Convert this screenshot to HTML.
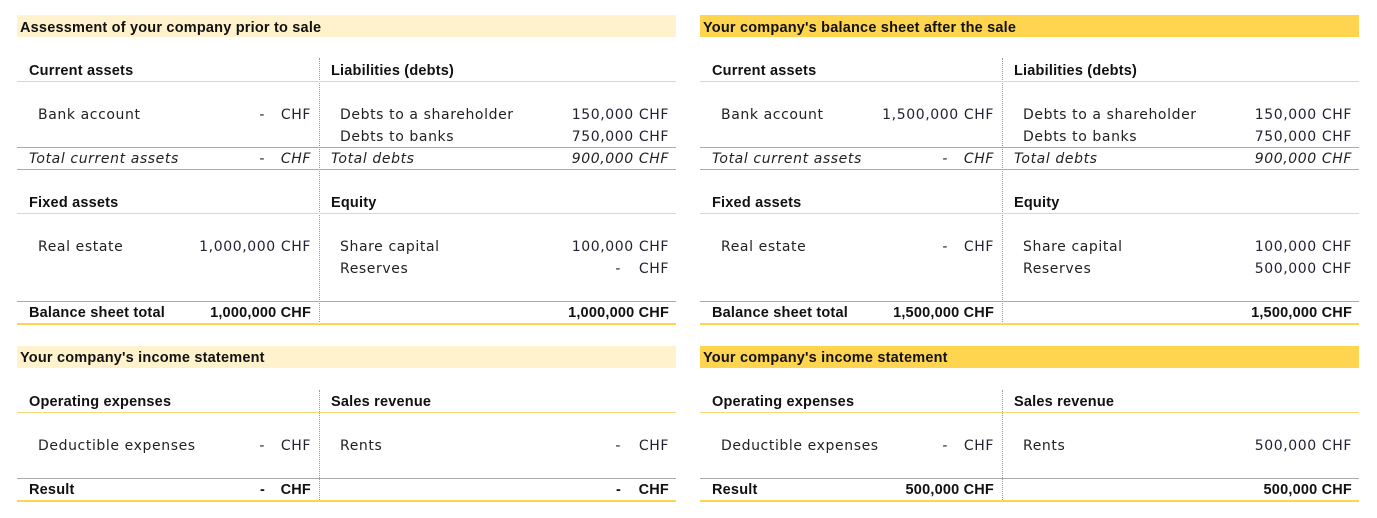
<!DOCTYPE html>
<html><head><meta charset="utf-8"><style>
body{margin:0;width:1377px;height:518px;background:#fff;position:relative;overflow:hidden;font-family:"DejaVu Sans","Liberation Sans",sans-serif;color:#222}
.p{position:absolute;top:0;width:659px;height:518px}
.p div{position:absolute;white-space:nowrap}
.band{left:0;width:659px;height:22px}
.t{font-size:14px;line-height:21px;letter-spacing:0.6px}
.b{font-family:"Liberation Sans",sans-serif;font-weight:bold;font-size:14.5px;color:#111;letter-spacing:0.2px}
.i{font-style:italic}
.ry{left:0;width:659px;height:1px;background:#f8d97a}
.rg{left:0;width:659px;height:1px;background:#aaa}
.rt{left:0;width:659px;height:2px;background:#ffd54f}
.v{left:302px;width:0;border-left:1px dotted #999}
.n{color:#223}
</style></head><body>

<!-- LEFT PANEL -->
<div class="p" style="left:17px">
<div class="band" style="top:15px;background:#fff2cc"></div>
<div class="t b" style="left:3px;top:18px">Assessment of your company prior to sale</div>
<div class="v" style="top:58px;height:266px"></div>
<div class="t b" style="left:12px;top:61px">Current assets</div>
<div class="t b" style="left:314px;top:61px">Liabilities (debts)</div>
<div class="ry" style="top:81px"></div>
<div class="t" style="left:21px;top:105px">Bank account</div>
<div class="t n" style="right:411px;top:105px">-</div><div class="t n" style="right:365px;top:105px">CHF</div>
<div class="t" style="left:323px;top:105px">Debts to a shareholder</div>
<div class="t n" style="right:7px;top:105px">150,000 CHF</div>
<div class="t" style="left:323px;top:127px">Debts to banks</div>
<div class="t n" style="right:7px;top:127px">750,000 CHF</div>
<div class="rg" style="top:147px"></div>
<div class="t i" style="left:12px;top:149px">Total current assets</div>
<div class="t i" style="right:411px;top:149px">-</div><div class="t i" style="right:365px;top:149px">CHF</div>
<div class="t i" style="left:314px;top:149px">Total debts</div>
<div class="t i" style="right:7px;top:149px">900,000 CHF</div>
<div class="rg" style="top:169px"></div>
<div class="t b" style="left:12px;top:193px">Fixed assets</div>
<div class="t b" style="left:314px;top:193px">Equity</div>
<div class="ry" style="top:213px"></div>
<div class="t" style="left:21px;top:237px">Real estate</div>
<div class="t n" style="right:365px;top:237px">1,000,000 CHF</div>
<div class="t" style="left:323px;top:237px">Share capital</div>
<div class="t n" style="right:7px;top:237px">100,000 CHF</div>
<div class="t" style="left:323px;top:259px">Reserves</div>
<div class="t n" style="right:55px;top:259px">-</div><div class="t n" style="right:7px;top:259px">CHF</div>
<div class="rg" style="top:301px"></div>
<div class="t b" style="left:12px;top:303px">Balance sheet total</div>
<div class="t b" style="right:365px;top:303px">1,000,000 CHF</div>
<div class="t b" style="right:7px;top:303px">1,000,000 CHF</div>
<div class="rt" style="top:323px"></div>

<div class="band" style="top:346px;background:#fff2cc"></div>
<div class="t b" style="left:3px;top:348px">Your company's income statement</div>
<div class="v" style="top:390px;height:110px"></div>
<div class="t b" style="left:12px;top:392px">Operating expenses</div>
<div class="t b" style="left:314px;top:392px">Sales revenue</div>
<div class="ry" style="top:412px"></div>
<div class="t" style="left:21px;top:436px">Deductible expenses</div>
<div class="t n" style="right:411px;top:436px">-</div><div class="t n" style="right:365px;top:436px">CHF</div>
<div class="t" style="left:323px;top:436px">Rents</div>
<div class="t n" style="right:55px;top:436px">-</div><div class="t n" style="right:7px;top:436px">CHF</div>
<div class="rg" style="top:478px"></div>
<div class="t b" style="left:12px;top:480px">Result</div>
<div class="t b" style="right:411px;top:480px">-</div><div class="t b" style="right:365px;top:480px">CHF</div>
<div class="t b" style="right:55px;top:480px">-</div><div class="t b" style="right:7px;top:480px">CHF</div>
<div class="rt" style="top:500px"></div>
</div>

<!-- RIGHT PANEL -->
<div class="p" style="left:700px">
<div class="band" style="top:15px;background:#ffd54f"></div>
<div class="t b" style="left:3px;top:18px">Your company's balance sheet after the sale</div>
<div class="v" style="top:58px;height:266px"></div>
<div class="t b" style="left:12px;top:61px">Current assets</div>
<div class="t b" style="left:314px;top:61px">Liabilities (debts)</div>
<div class="ry" style="top:81px"></div>
<div class="t" style="left:21px;top:105px">Bank account</div>
<div class="t n" style="right:365px;top:105px">1,500,000 CHF</div>
<div class="t" style="left:323px;top:105px">Debts to a shareholder</div>
<div class="t n" style="right:7px;top:105px">150,000 CHF</div>
<div class="t" style="left:323px;top:127px">Debts to banks</div>
<div class="t n" style="right:7px;top:127px">750,000 CHF</div>
<div class="rg" style="top:147px"></div>
<div class="t i" style="left:12px;top:149px">Total current assets</div>
<div class="t i" style="right:411px;top:149px">-</div><div class="t i" style="right:365px;top:149px">CHF</div>
<div class="t i" style="left:314px;top:149px">Total debts</div>
<div class="t i" style="right:7px;top:149px">900,000 CHF</div>
<div class="rg" style="top:169px"></div>
<div class="t b" style="left:12px;top:193px">Fixed assets</div>
<div class="t b" style="left:314px;top:193px">Equity</div>
<div class="ry" style="top:213px"></div>
<div class="t" style="left:21px;top:237px">Real estate</div>
<div class="t n" style="right:411px;top:237px">-</div><div class="t n" style="right:365px;top:237px">CHF</div>
<div class="t" style="left:323px;top:237px">Share capital</div>
<div class="t n" style="right:7px;top:237px">100,000 CHF</div>
<div class="t" style="left:323px;top:259px">Reserves</div>
<div class="t n" style="right:7px;top:259px">500,000 CHF</div>
<div class="rg" style="top:301px"></div>
<div class="t b" style="left:12px;top:303px">Balance sheet total</div>
<div class="t b" style="right:365px;top:303px">1,500,000 CHF</div>
<div class="t b" style="right:7px;top:303px">1,500,000 CHF</div>
<div class="rt" style="top:323px"></div>

<div class="band" style="top:346px;background:#ffd54f"></div>
<div class="t b" style="left:3px;top:348px">Your company's income statement</div>
<div class="v" style="top:390px;height:110px"></div>
<div class="t b" style="left:12px;top:392px">Operating expenses</div>
<div class="t b" style="left:314px;top:392px">Sales revenue</div>
<div class="ry" style="top:412px"></div>
<div class="t" style="left:21px;top:436px">Deductible expenses</div>
<div class="t n" style="right:411px;top:436px">-</div><div class="t n" style="right:365px;top:436px">CHF</div>
<div class="t" style="left:323px;top:436px">Rents</div>
<div class="t n" style="right:7px;top:436px">500,000 CHF</div>
<div class="rg" style="top:478px"></div>
<div class="t b" style="left:12px;top:480px">Result</div>
<div class="t b" style="right:365px;top:480px">500,000 CHF</div>
<div class="t b" style="right:7px;top:480px">500,000 CHF</div>
<div class="rt" style="top:500px"></div>
</div>
</body></html>
